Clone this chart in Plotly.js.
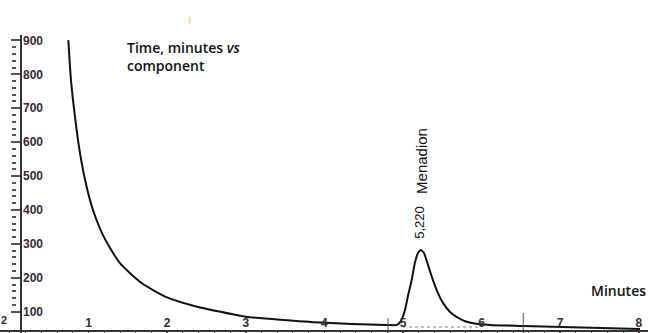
<!DOCTYPE html>
<html><head><meta charset="utf-8">
<script src="https://cdn.plot.ly/plotly-3.0.1.min.js"></script>
<style>html,body{margin:0;padding:0;background:#fff;}#c{width:648px;height:333px;}</style>
</head><body><div id="c"></div>
<script>
// Chromatogram trace (time in minutes, detector response)
const timeMin = [0.742,0.776,0.821,0.878,0.954,1.056,1.196,1.399,1.679,1.990,2.392,2.888,3.0,3.944,4.796,4.924,4.975,5.025,5.064,5.111,5.153,5.191,5.225,5.267,5.318,5.38,5.445,5.509,5.598,5.687,5.789,5.891,6.107,6.527,8.015];
const response = [901,783,686,586,490,400,320,243,184,143,114,90,85,68,61,61,73,105,147,194,246,273,282,273,238,194,155,126,99,84,72,66,61,58,49];
// integration baseline under the peak
const baseT = [5.0, 5.98];
const baseV = [55, 55];
// peak start / end markers
const markT = [4.81, 6.53];
const markTop = [81, 96];
const markBottom = [37, 37];
// peak label
const peakName = "Menadion";
const peakTime = "5,220";
const peakT = 5.235;
const xTicks = [1,2,3,4,5,6,7,8];
const yTicks = [100,200,300,400,500,600,700,800,900];

const tickColor = "#3b2640";
const traces = [
  {x: timeMin, y: response, type: "scatter", mode: "lines",
   line: {color: "#111", width: 2, shape: "spline", smoothing: 0.6}, hoverinfo: "skip"},
  {x: baseT, y: baseV, type: "scatter", mode: "lines", yaxis: "y2",
   line: {color: "#aaa", width: 1.5, dash: "dot"}, hoverinfo: "skip"},
  {x: baseT, y: baseV, type: "scatter", mode: "lines", yaxis: "y3",
   line: {color: "rgba(0,0,0,0)", width: 0}, hoverinfo: "skip"}
];
markT.forEach((t, i) => traces.push({
  x: [t, t], y: [markBottom[i], markTop[i]], type: "scatter", mode: "lines",
  line: {color: "#555", width: 1}, hoverinfo: "skip"}));

const xr = [-0.127, 8.117];
const yr = [37.2, 916];
const tickFontY = {family: "Liberation Sans, Arial", size: 12, color: tickColor, weight: "bold"};
const layout = {
  width: 648, height: 333,
  margin: {l: 0, r: 0, t: 35, b: 0},
  paper_bgcolor: "#fff", plot_bgcolor: "#fff",
  showlegend: false,
  xaxis: {range: xr, anchor: "free", position: 0.009,
    showgrid: false, zeroline: false, showline: true, linecolor: "#333", linewidth: 1.5,
    tickvals: xTicks, ticktext: xTicks.map(String),
    ticks: "outside", ticklen: 4, tickcolor: "#444", tickwidth: 1.5,
    ticklabelposition: "inside", ticklabelstandoff: 0,
    tickfont: {family: "Liberation Sans, Arial", size: 12, color: tickColor, weight: "bold"},
    minor: {dtick: 0.2, ticks: "outside", ticklen: 3, tickcolor: "#555", tickwidth: 1}},
  yaxis: {range: yr, anchor: "free", position: 0.0324,
    showgrid: false, zeroline: false, showline: true, linecolor: "#333", linewidth: 2,
    tickvals: yTicks, showticklabels: false,
    ticks: "outside", ticklen: 9, tickcolor: "#555", tickwidth: 2},
  yaxis2: {range: yr, overlaying: "y", anchor: "free", position: 0.0247,
    showgrid: false, zeroline: false, showline: false, showticklabels: false,
    ticks: "", minor: {dtick: 20, ticks: "outside", ticklen: 4, tickcolor: "#555", tickwidth: 2}},
  yaxis3: {range: yr, overlaying: "y", side: "right", anchor: "free", position: 0.0324,
    showgrid: false, zeroline: false, showline: false, ticks: "",
    tickvals: yTicks, ticktext: yTicks.map(String), ticklabelstandoff: 1, tickfont: tickFontY},
  annotations: [
    {x: 1.463, y: 912, xref: "x", yref: "y", xanchor: "left", yanchor: "top", align: "left",
     text: "Time, minutes <i>vs</i><br>component", showarrow: false,
     font: {family: "Open Sans", size: 14, color: "#111", weight: 600}},
    {x: 7.74, y: 164, xref: "x", yref: "y", text: "Minutes", showarrow: false,
     font: {family: "Open Sans", size: 14, color: "#111", weight: 600}},
    {x: peakT, y: 546, xref: "x", yref: "y", text: peakName, textangle: -90, showarrow: false,
     font: {family: "Liberation Sans, Arial", size: 15, color: "#111"}},
    {x: peakT - 0.02, y: 365, xref: "x", yref: "y", text: peakTime, textangle: -90, showarrow: false,
     font: {family: "Liberation Sans Narrow, Arial Narrow, Liberation Sans", size: 13, color: "#111"}},
    {x: -0.076, y: 75, xref: "x", yref: "y", text: "2", showarrow: false,
     font: {family: "Liberation Sans, Arial", size: 11, color: tickColor, weight: "bold"}}
  ],
  shapes: [
    {type: "line", xref: "paper", yref: "paper", x0: 0.293, x1: 0.293, y0: 1.035, y1: 1.06,
     line: {color: "#f3d36a", width: 1.5}}
  ]
};
Plotly.newPlot("c", traces, layout, {staticPlot: true, displayModeBar: false});
</script></body></html>
